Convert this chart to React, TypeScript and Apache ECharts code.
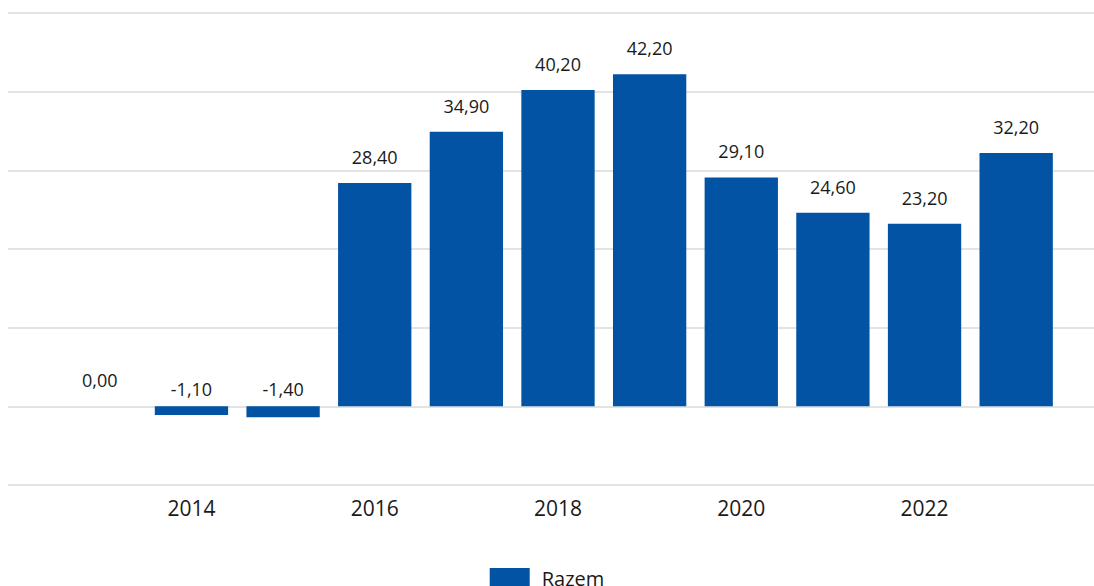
import React, { useEffect, useRef } from "react";
import * as echarts from "echarts";

const years = ["2013", "2014", "2015", "2016", "2017", "2018", "2019", "2020", "2021", "2022", "2023"];
const values = [0.0, -1.1, -1.4, 28.4, 34.9, 40.2, 42.2, 29.1, 24.6, 23.2, 32.2];
const seriesName = "Razem";

const BLUE = "#0353A4";
const FONT = "'Open Sans', 'Noto Sans', sans-serif";

export default function App() {
  const ref = useRef<HTMLDivElement>(null);
  useEffect(() => {
    if (!ref.current) return;
    const chart = echarts.init(ref.current, null, { renderer: "svg" });
    const yCommon = { type: "value", min: -10, max: 50, interval: 10, axisLabel: { show: false }, axisLine: { show: false }, axisTick: { show: false } };
    chart.setOption({
      animation: false,
      textStyle: { fontFamily: FONT },
      grid: [
        { left: 54, right: 32, top: 13, height: 472 },
        { left: 8, right: 0, top: 13, height: 472 },
      ],
      xAxis: [
        {
          type: "category",
          gridIndex: 0,
          data: years,
          axisLine: { show: false, onZero: false },
          axisTick: { show: false },
          axisLabel: {
            interval: (i: number) => i % 2 === 1,
            color: "#1a1a1a",
            fontSize: 21,
            fontFamily: FONT,
            margin: 12,
          },
        },
        { type: "value", gridIndex: 1, show: false, min: 0, max: 1 },
      ],
      yAxis: [
        { ...yCommon, gridIndex: 0, splitLine: { show: false } },
        { ...yCommon, gridIndex: 1, splitLine: { show: true, lineStyle: { color: "#e3e3e3", width: 2 } } },
      ],
      legend: {
        data: [seriesName],
        left: "center",
        top: 568,
        padding: 0,
        icon: "rect",
        itemWidth: 40,
        itemHeight: 20,
        textStyle: { fontSize: 20, color: "#1a1a1a", fontFamily: FONT, padding: [0, 0, 0, 7] },
      },
      series: [
        {
          name: seriesName,
          type: "bar",
          xAxisIndex: 0,
          yAxisIndex: 0,
          barCategoryGap: "20%",
          itemStyle: { color: BLUE },
          data: values.map((v) => ({
            value: v,
            label: v < 0 ? { distance: 8 } : undefined,
          })),
          label: {
            show: true,
            position: "top",
            distance: 17,
            color: "#1a1a1a",
            fontSize: 18,
            fontFamily: FONT,
            formatter: (p: any) => Number(p.value).toFixed(2).replace(".", ","),
          },
        },
      ],
    });
    return () => chart.dispose();
  }, []);
  return (
    <div
      ref={ref}
      style={{ position: "fixed", left: 0, top: 0, width: 1094, height: 586, background: "#fff" }}
    />
  );
}
